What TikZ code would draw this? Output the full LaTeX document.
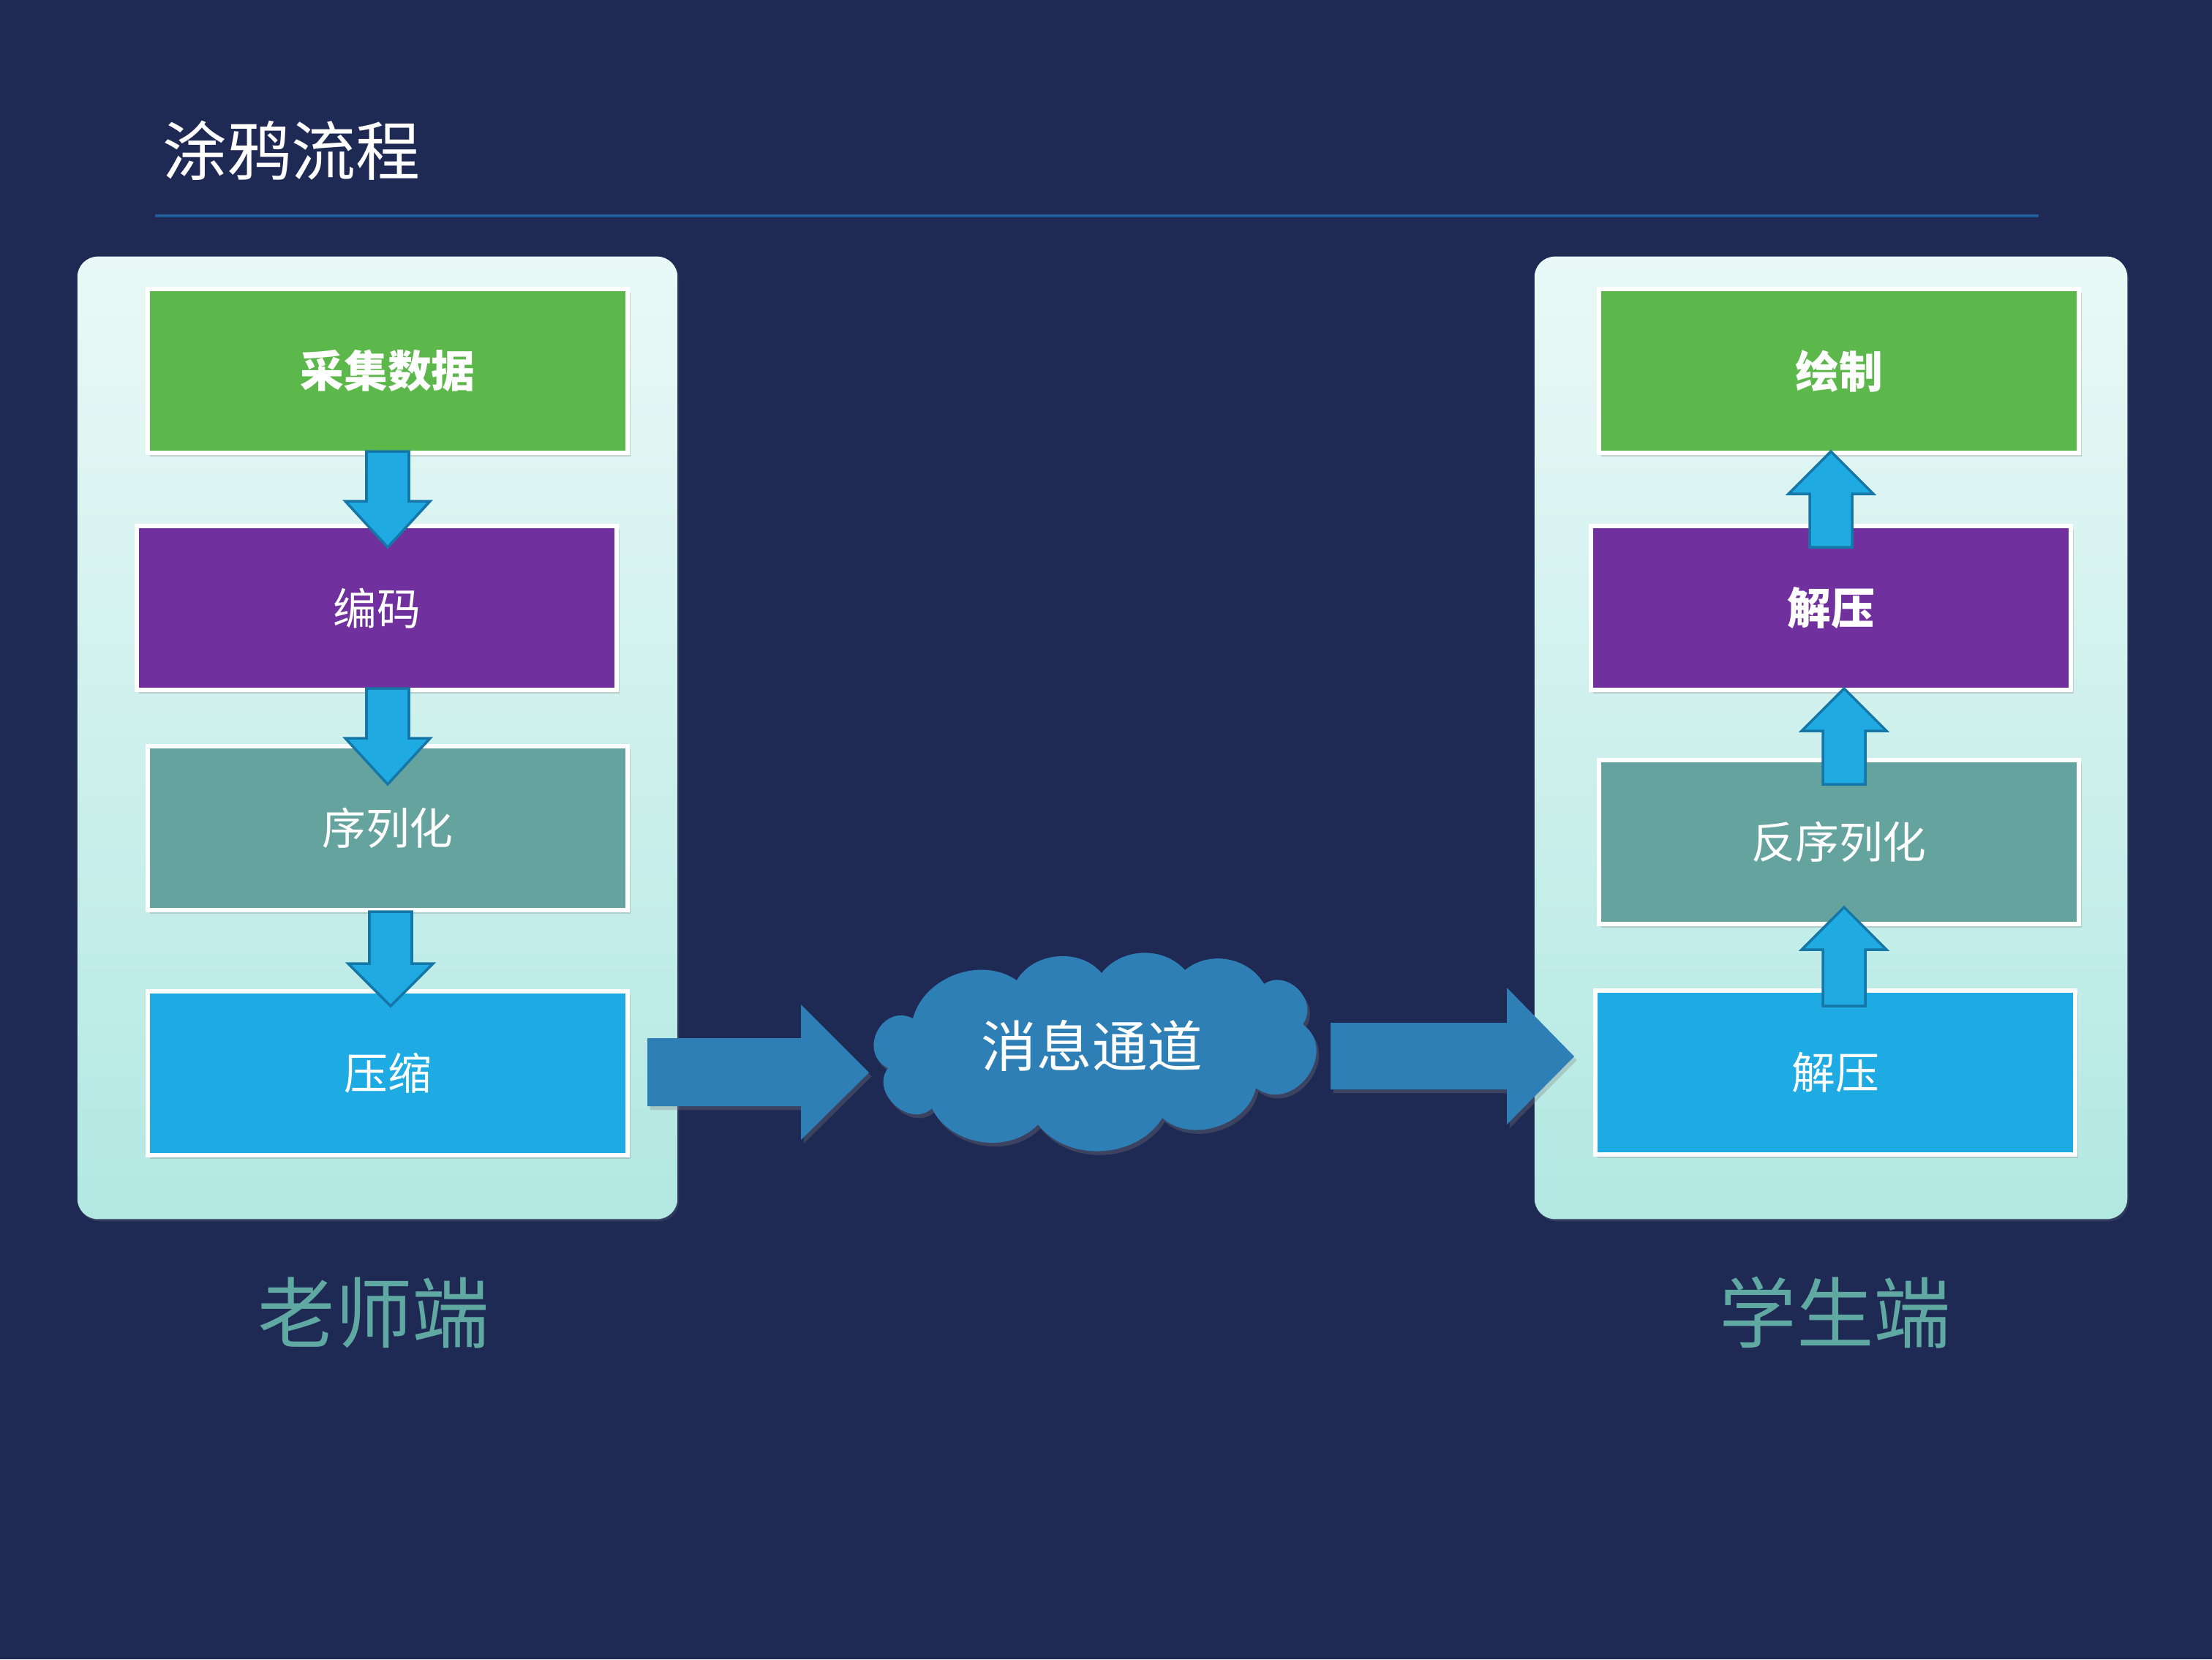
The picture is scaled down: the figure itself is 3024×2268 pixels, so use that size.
\documentclass[tikz,border=0pt]{standalone}
\usepackage{fontspec}
\newfontfamily\cjk{Noto Sans CJK SC}
\usetikzlibrary{shadows}
\definecolor{bg}{RGB}{30,41,84}
\definecolor{rulec}{RGB}{31,92,156}
\definecolor{panTop}{RGB}{234,249,247}
\definecolor{panBot}{RGB}{178,232,226}
\definecolor{cGreen}{RGB}{92,184,75}
\definecolor{cPurple}{RGB}{112,48,158}
\definecolor{cTeal}{RGB}{101,163,159}
\definecolor{cBlue}{RGB}{30,170,226}
\definecolor{arrFill}{RGB}{31,170,225}
\definecolor{arrLine}{RGB}{21,119,168}
\definecolor{bigBlue}{RGB}{46,127,182}
\definecolor{labelc}{RGB}{96,168,162}
\begin{document}
\begin{tikzpicture}[x=0.01cm,y=-0.01cm,
  panel/.style={rounded corners=0.28cm, top color=panTop, bottom color=panBot,
    minimum height=13.15cm, inner sep=0pt,
    drop shadow={shadow xshift=0.6pt, shadow yshift=-0.9pt, opacity=0.2}},
  stepbox/.style={draw=white, line width=1.7pt, minimum width=6.56cm, minimum height=2.24cm,
    inner sep=0pt, text=white, font=\cjk\fontsize{17}{20}\selectfont,
    drop shadow={shadow xshift=1pt, shadow yshift=-1.5pt, opacity=0.3}},
  boldtext/.style={font=\cjk\bfseries\fontsize{17}{20}\selectfont},
  blk/.style={fill=arrFill, draw=arrLine, line width=1pt, line join=miter},
  bigarr/.style={fill=bigBlue, draw=none,
    drop shadow={shadow xshift=1pt, shadow yshift=-1.5pt, opacity=0.3}},
  sidelabel/.style={text=labelc, font=\cjk\fontsize{30}{34}\selectfont, inner sep=0pt}
]
\useasboundingbox (0,0) rectangle (3024,2268);
\fill[bg] (0,0) rectangle (3024,2268);

% title
\node[anchor=west, text=white, font=\cjk\fontsize{25}{30}\selectfont, inner sep=0pt] (title) at (222,206) {涂鸦流程};
\coordinate (ra) at (212,295);
\coordinate (rb) at (2787,295);
\draw[rulec, line width=0.9pt] (ra) -- (rb);

% panels
\node[panel, minimum width=8.2cm] (lp) at (516,1008.5) {};
\node[panel, minimum width=8.1cm] (rp) at (2503,1008.5) {};

% left column
\node[stepbox, fill=cGreen, boldtext] (l1) at (530,507) {采集数据};
\node[stepbox, fill=cPurple] (l2) at (515,831) {编码};
\node[stepbox, fill=cTeal] (l3) at (530,1132) {序列化};
\node[stepbox, fill=cBlue] (l4) at (530,1467) {压缩};

% right column
\node[stepbox, fill=cGreen, boldtext] (r1) at (2514,507) {绘制};
\node[stepbox, fill=cPurple, boldtext] (r2) at (2503,831) {解压};
\node[stepbox, fill=cTeal] (r3) at (2514,1151) {反序列化};
\node[stepbox, fill=cBlue] (r4) at (2509,1466) {解压};

% block arrows: cx, shaft end, head base, tip
\newcommand\blockarrow[4]{%
  \draw[blk] (#1-29,#2) -- (#1+29,#2) -- (#1+29,#3) -- (#1+58,#3) -- (#1,#4)
    -- (#1-58,#3) -- (#1-29,#3) -- cycle;}
\blockarrow{530}{617}{685}{748}
\blockarrow{530}{941}{1009}{1072}
\blockarrow{534}{1246}{1317}{1375}
\blockarrow{2503}{748}{675}{617}
\blockarrow{2521}{1072}{999}{941}
\blockarrow{2521}{1375}{1298}{1240}

% cloud
\fill[bigBlue, drop shadow={shadow xshift=1pt, shadow yshift=-1.5pt, opacity=0.3}]
  (1214,1460) to[bend left=90, looseness=1.6] (1248,1392)
  to[bend left=55] (1390,1340)
  to[bend left=55] (1506,1330)
  to[bend left=50] (1620,1326)
  to[bend left=50] (1728,1345)
  to[bend left=80, looseness=1.3] (1781,1400)
  to[bend left=90, looseness=1.5] (1717,1487)
  to[bend left=60] (1589,1528)
  to[bend left=55] (1419,1537)
  to[bend left=55] (1274,1515)
  to[bend left=85, looseness=1.3] (1214,1460) -- cycle;
\node[text=white, font=\cjk\fontsize{21.5}{26}\selectfont, inner sep=0pt] (cl) at (1493,1429) {消息通道};

% big arrows
\draw[bigarr] (885,1419) -- (1095,1419) -- (1095,1373) -- (1188,1466) -- (1095,1558)
  -- (1095,1512) -- (885,1512) -- cycle;
\draw[bigarr] (1819,1398) -- (2060,1398) -- (2060,1350) -- (2152,1444) -- (2060,1537)
  -- (2060,1489) -- (1819,1489) -- cycle;

% side labels
\node[sidelabel] (tl) at (511,1794) {老师端};
\node[sidelabel] (sl) at (2509,1794) {学生端};
\end{tikzpicture}
\end{document}
